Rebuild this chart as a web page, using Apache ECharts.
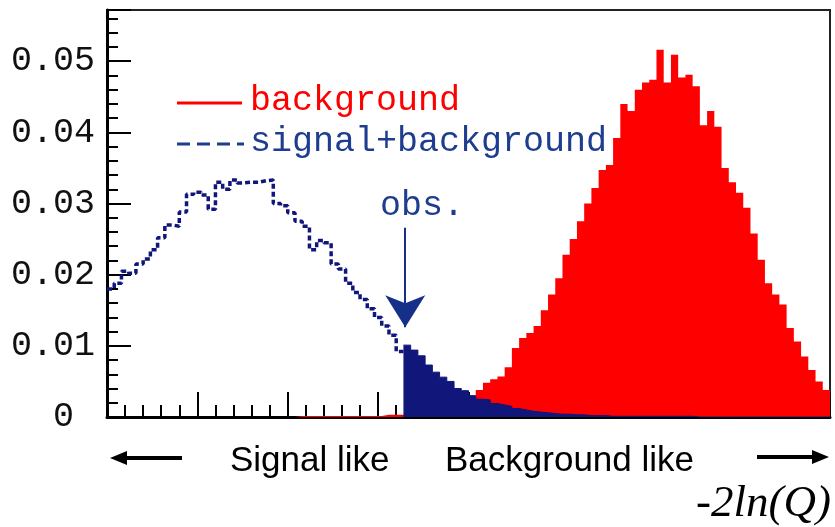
<!DOCTYPE html>
<html><head><meta charset="utf-8">
<script src="https://cdn.jsdelivr.net/npm/echarts@6/dist/echarts.min.js"></script>
<style>html,body{margin:0;padding:0;background:#fff}#c{width:835px;height:527px}</style>
</head><body><div id="c"></div>
<script>
// x axis: -2ln(Q), 100 bins of width 0.8 from -40 to 40
const xMin = -40;
const xMax = 40;
const binWidth = 0.8;
const yMax = 0.0572;
const obsValue = -7.2;   // observed -2ln(Q) (edge of bin 41)
const obsBin = 41;
const legendLabels = ['background', 'signal+background'];
const sideLabels = ['Signal like', 'Background like'];
const axisTitle = '-2ln(Q)';

const background = [
  0,0,0,0,0,0,0,0,0,0, 0,0,0,0,0,0,0,0,0,0, 0,0,0,0,0,0,
  0.00015,0.00015,0.00015,0.00015,0.00015,0.00015,0.00015,0.00015,0.00015,0.00015,0.00015,0.00015,
  0.0003,0.0003,0.0003,0.0003,
  0.0005,0.0007,0.0009,0.0011,0.0014,0.0017,0.0021,0.0025,0.0029,
  0.0038,0.0048,0.0053,0.0057,0.0070,0.0097,0.0111,0.0118,0.0128,0.0150,
  0.0172,0.0195,0.0228,0.0250,0.0275,0.0300,0.0322,0.0347,0.0354,0.0392,
  0.0440,0.0430,0.0460,0.0470,0.0474,0.0516,0.0470,0.0509,0.0477,0.0481,
  0.0465,0.0410,0.0430,0.0408,0.0350,0.0330,0.0315,0.0294,0.0258,0.0221,
  0.0188,0.0172,0.0158,0.0125,0.0106,0.0085,0.0066,0.0050,0.0038
];

const signalBackground = [
  0.0180,0.0188,0.0205,0.0202,0.0215,0.0222,0.0235,0.0252,0.0270,0.0268,
  0.0288,0.0313,0.0316,0.0312,0.0292,0.0330,0.0320,0.0333,0.0329,0.0330,
  0.0330,0.0332,0.0333,0.0300,0.0297,0.0287,0.0275,0.0268,0.0235,0.0248,
  0.0245,0.0215,0.0208,0.0188,0.0175,0.0165,0.0152,0.0140,0.0128,0.0115,
  0.0092,
  0.0101,0.0094,0.0086,0.0073,0.0063,0.0056,0.0050,0.0040,0.0037,0.0030,
  0.0025,0.0024,0.0019,0.0017,0.0015,0.0012,0.0010,0.0008,0.0007,0.0006,
  0.0005,0.0004,0.0004,0.0003,0.0003,0.0002,0.0002,0.0002,
  0.0001,0.0001,0.0001,0.0001,0.0001,0.0001,0.0001,0.0001,0.0001,0.0001,0.0001,0.0001,
  0,0,0,0,0,0,0,0,0,0,0,0,0,0,0,0,0,0,0
];

// step-histogram points: left edge of each bin, plus closing right edge
function stepPoints(values, from, to) {
  const pts = [];
  for (let i = from; i < to; i++) pts.push([xMin + i * binWidth, values[i]]);
  pts.push([xMin + to * binWidth, values[to - 1]]);
  return pts;
}

const navy = '#10167a';
const textBlue = '#1f3d8f';
const mono = 'Liberation Mono';

const chart = echarts.init(document.getElementById('c'), null, {renderer: 'canvas'});
chart.setOption({
  animation: false,
  backgroundColor: '#fff',
  grid: {left: 107, right: 5, top: 10, bottom: 110, containLabel: false, outerBoundsMode: 'none',
         show: true, borderColor: '#222', borderWidth: 2, backgroundColor: '#fff'},
  xAxis: {
    type: 'value', min: xMin, max: xMax, interval: 10,
    axisLine: {show: true, onZero: false, lineStyle: {color: '#000', width: 3}},
    axisTick: {show: true, inside: true, length: 25, lineStyle: {color: '#000', width: 2}},
    minorTick: {show: true, splitNumber: 5, length: 12, lineStyle: {color: '#000', width: 2}},
    axisLabel: {show: false},
    splitLine: {show: false}
  },
  yAxis: {
    type: 'value', min: 0, max: yMax, interval: 0.01,
    axisLine: {show: true, onZero: false, lineStyle: {color: '#000', width: 3}},
    axisTick: {show: true, inside: true, length: 24, lineStyle: {color: '#000', width: 2}},
    minorTick: {show: true, splitNumber: 5, length: 11, lineStyle: {color: '#000', width: 2}},
    splitLine: {show: false},
    axisLabel: {
      show: true, showMaxLabel: false, margin: 12, color: '#111',
      fontFamily: mono, fontSize: 35, padding: [10, 0, 0, 0],
      formatter: v => v === 0 ? '0 ' : v.toFixed(2)
    }
  },
  series: [
    {
      name: legendLabels[0], type: 'line', step: 'end', symbol: 'none',
      data: stepPoints(background, 0, background.length),
      lineStyle: {opacity: 0, width: 0},
      areaStyle: {color: '#ff0000', opacity: 1}
    },
    {
      name: legendLabels[1] + ' tail', type: 'line', step: 'end', symbol: 'none',
      data: stepPoints(signalBackground, obsBin, signalBackground.length),
      lineStyle: {color: navy, width: 1},
      areaStyle: {color: navy, opacity: 1}
    },
    {
      name: legendLabels[1], type: 'line', step: 'end', symbol: 'none',
      data: stepPoints(signalBackground, 0, obsBin),
      lineStyle: {color: navy, width: 3.5, type: [5, 3]},
      markLine: {
        silent: true, animation: false,
        symbol: ['none', 'arrow'], symbolSize: [30, 32],
        lineStyle: {color: '#16308a', width: 2, type: 'solid'},
        itemStyle: {color: navy},
        label: {show: false},
        data: [[{coord: [obsValue + 0.2, 0.0266]}, {coord: [obsValue + 0.2, 0.0126]}]]
      }
    }
  ],
  graphic: [
    {type: 'line', shape: {x1: 177, y1: 103, x2: 242, y2: 103}, style: {stroke: '#ff0000', lineWidth: 3}},
    {type: 'text', x: 250, y: 101, style: {text: legendLabels[0], fill: '#ff0000', fontFamily: mono, fontSize: 35, verticalAlign: 'middle', align: 'left'}},
    {type: 'line', shape: {x1: 177, y1: 144, x2: 244, y2: 144}, style: {stroke: textBlue, lineWidth: 3, lineDash: [13, 7]}},
    {type: 'text', x: 250, y: 142, style: {text: legendLabels[1], fill: textBlue, fontFamily: mono, fontSize: 35, verticalAlign: 'middle', align: 'left'}},
    {type: 'text', x: 380, y: 206, style: {text: 'obs.', fill: textBlue, fontFamily: mono, fontSize: 35, verticalAlign: 'middle', align: 'left'}},
    {type: 'text', x: 230, y: 461, style: {text: sideLabels[0], fill: '#000', fontFamily: 'Liberation Sans', fontSize: 35, verticalAlign: 'middle', align: 'left'}},
    {type: 'text', x: 445, y: 461, style: {text: sideLabels[1], fill: '#000', fontFamily: 'Liberation Sans', fontSize: 35, verticalAlign: 'middle', align: 'left'}},
    {type: 'line', shape: {x1: 122, y1: 458, x2: 182, y2: 458}, style: {stroke: '#000', lineWidth: 4}},
    {type: 'polygon', shape: {points: [[110, 458], [127, 451], [127, 465]]}, style: {fill: '#000'}},
    {type: 'line', shape: {x1: 757, y1: 457, x2: 816, y2: 457}, style: {stroke: '#000', lineWidth: 4}},
    {type: 'polygon', shape: {points: [[829, 457], [812, 450], [812, 464]]}, style: {fill: '#000'}},
    {type: 'text', x: 831, y: 504, style: {text: axisTitle, fill: '#000', fontFamily: 'Liberation Serif', fontStyle: 'italic', fontSize: 45, verticalAlign: 'middle', align: 'right'}}
  ]
});
</script>
</body></html>
